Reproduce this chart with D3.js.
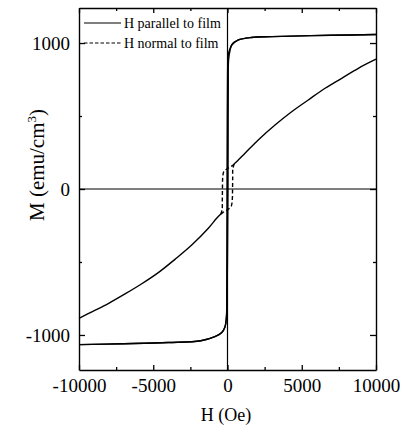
<!DOCTYPE html>
<html><head><meta charset="utf-8">
<script src="https://cdn.jsdelivr.net/npm/d3@7"></script>
<style>body{margin:0;background:#fff}svg{display:block}text{font-family:"Liberation Serif","Times New Roman",serif;fill:#000}</style>
</head><body><svg id="c" width="406" height="427"></svg>
<script>
// ---- data ----
const xTicks = [-10000, -5000, 0, 5000, 10000];
const xMinor = [-7500, -2500, 2500, 7500];
const yTicks = [-1000, 0, 1000];
const yMinor = [-500, 500];
const legendLabels = ["H parallel to film", "H normal to film"];

// H parallel to film: descending branch (H from +10000 to -10000)
const parDownH = [10000, 7000, 5000, 3000, 1600, 700, 300, 150, 60, 20, 0, -20, -30, -40, -50, -70, -170, -400, -850, -1800, -4000, -7000, -10000];
const parDownM = [1058, 1053, 1049, 1044, 1038, 1020, 988, 955, 925, 860, 700, 300, 0, -300, -700, -870, -945, -985, -1012, -1040, -1052, -1060, -1066];
// H parallel to film: ascending branch (H from -10000 to +10000)
const parUpH = [-10000, -7000, -4000, -1800, -850, -400, -170, -70, -40, -20, 0, 20, 30, 40, 50, 70, 170, 300, 700, 1600, 3000, 5000, 7000, 10000];
const parUpM = [-1066, -1060, -1052, -1040, -1012, -985, -945, -880, -800, -650, -450, -150, 0, 300, 700, 880, 950, 990, 1020, 1038, 1044, 1049, 1053, 1058];

// H normal to film: outer (reversible) part, negative field
const norNegH = [-10000, -9100, -8000, -6900, -5800, -4660, -3540, -2410, -1290, -730, -450];
const norNegM = [-886, -840, -783, -719, -651, -573, -482, -384, -269, -201, -172];
// H normal to film: outer part, positive field
const norPosH = [450, 500, 1180, 2070, 3200, 4320, 5440, 6570, 7690, 8810, 10000];
const norPosM = [172, 176, 245, 336, 438, 529, 610, 690, 758, 827, 889];
// H normal to film: hysteresis loop, descending branch
const loopDownH = [450, 300, 100, -100, -250, -320, -340, -350, -360, -450];
const loopDownM = [172, 158, 146, 134, 120, 80, 0, -80, -140, -172];
// H normal to film: hysteresis loop, ascending branch
const loopUpH = [-450, -300, -100, 100, 250, 320, 340, 350, 360, 450];
const loopUpM = [-172, -160, -148, -135, -118, -75, 0, 80, 140, 172];

// ---- chart ----
const svg = d3.select("#c");
const L = 79, R = 376, T = 8, B = 370;
const x = d3.scaleLinear().domain([-10000, 10000]).range([L, R]);
const y = d3.scaleLinear().domain([-1240, 1240]).range([B, T]);
const line = d3.line().x(d => x(d[0])).y(d => y(d[1])).curve(d3.curveCatmullRom.alpha(0.5));
const pts = (hs, ms) => hs.map((h, i) => [h, ms[i]]);
const fmt = d => String(d); // plain hyphen-minus as in the reference

// zero lines
svg.append("line").attr("x1", x(0)).attr("x2", x(0)).attr("y1", T).attr("y2", B).attr("stroke", "#000").attr("stroke-width", 1.2);
svg.append("line").attr("x1", L).attr("x2", R).attr("y1", y(0)).attr("y2", y(0)).attr("stroke", "#000").attr("stroke-width", 1.2);

// axes with inward ticks on all four sides
function ax(gen, tr, vals, size, labels) {
  const g = svg.append("g").attr("transform", tr)
    .call(gen.tickValues(vals).tickSizeInner(-size).tickSizeOuter(0).tickPadding(labels ? 9 : 0)
      .tickFormat(labels ? fmt : () => ""));
  g.select(".domain").attr("stroke-width", 1.4);
  g.selectAll(".tick line").attr("stroke-width", 1.3);
  g.selectAll("text").style("font-family", '"Liberation Serif","Times New Roman",serif').style("font-size", "19px");
  return g;
}
ax(d3.axisBottom(x), `translate(0,${B})`, xTicks, 5, true);
ax(d3.axisBottom(x), `translate(0,${B})`, xMinor, 3, false).select(".domain").remove();
ax(d3.axisTop(x), `translate(0,${T})`, xTicks, 5, false);
ax(d3.axisTop(x), `translate(0,${T})`, xMinor, 3, false).select(".domain").remove();
ax(d3.axisLeft(y), `translate(${L},0)`, yTicks, 6, true);
ax(d3.axisLeft(y), `translate(${L},0)`, yMinor, 3, false).select(".domain").remove();
ax(d3.axisRight(y), `translate(${R},0)`, yTicks, 6, false);
ax(d3.axisRight(y), `translate(${R},0)`, yMinor, 3, false).select(".domain").remove();

// curves
const curve = (data, dash) => svg.append("path").datum(data).attr("d", line)
  .attr("fill", "none").attr("stroke", "#000").attr("stroke-width", 1.4)
  .attr("stroke-dasharray", dash || null).attr("stroke-linejoin", "round");
curve(pts(parDownH, parDownM));
curve(pts(parUpH, parUpM));
curve(pts(norNegH, norNegM));
curve(pts(norPosH, norPosM));
curve(pts(loopDownH, loopDownM), "4,2.5");
curve(pts(loopUpH, loopUpM), "4,2.5");

// legend
legendLabels.forEach((t, i) => {
  const yy = 23 + i * 20;
  svg.append("line").attr("x1", 84).attr("x2", 121).attr("y1", yy).attr("y2", yy)
    .attr("stroke", "#000").attr("stroke-width", 1.2).attr("stroke-dasharray", i ? "3.5,2" : null);
  svg.append("text").attr("x", 124).attr("y", yy + 5).style("font-size", "14px").text(t);
});

// axis titles
svg.append("text").attr("x", 226).attr("y", 421).attr("text-anchor", "middle").style("font-size", "18px").text("H (Oe)");
const yt = svg.append("text").attr("transform", "translate(44,165) rotate(-90)").attr("text-anchor", "middle").style("font-size", "21px");
yt.append("tspan").text("M (emu/cm");
yt.append("tspan").attr("dy", -8).style("font-size", "13px").text("3");
yt.append("tspan").attr("dy", 8).text(")");
</script></body></html>
